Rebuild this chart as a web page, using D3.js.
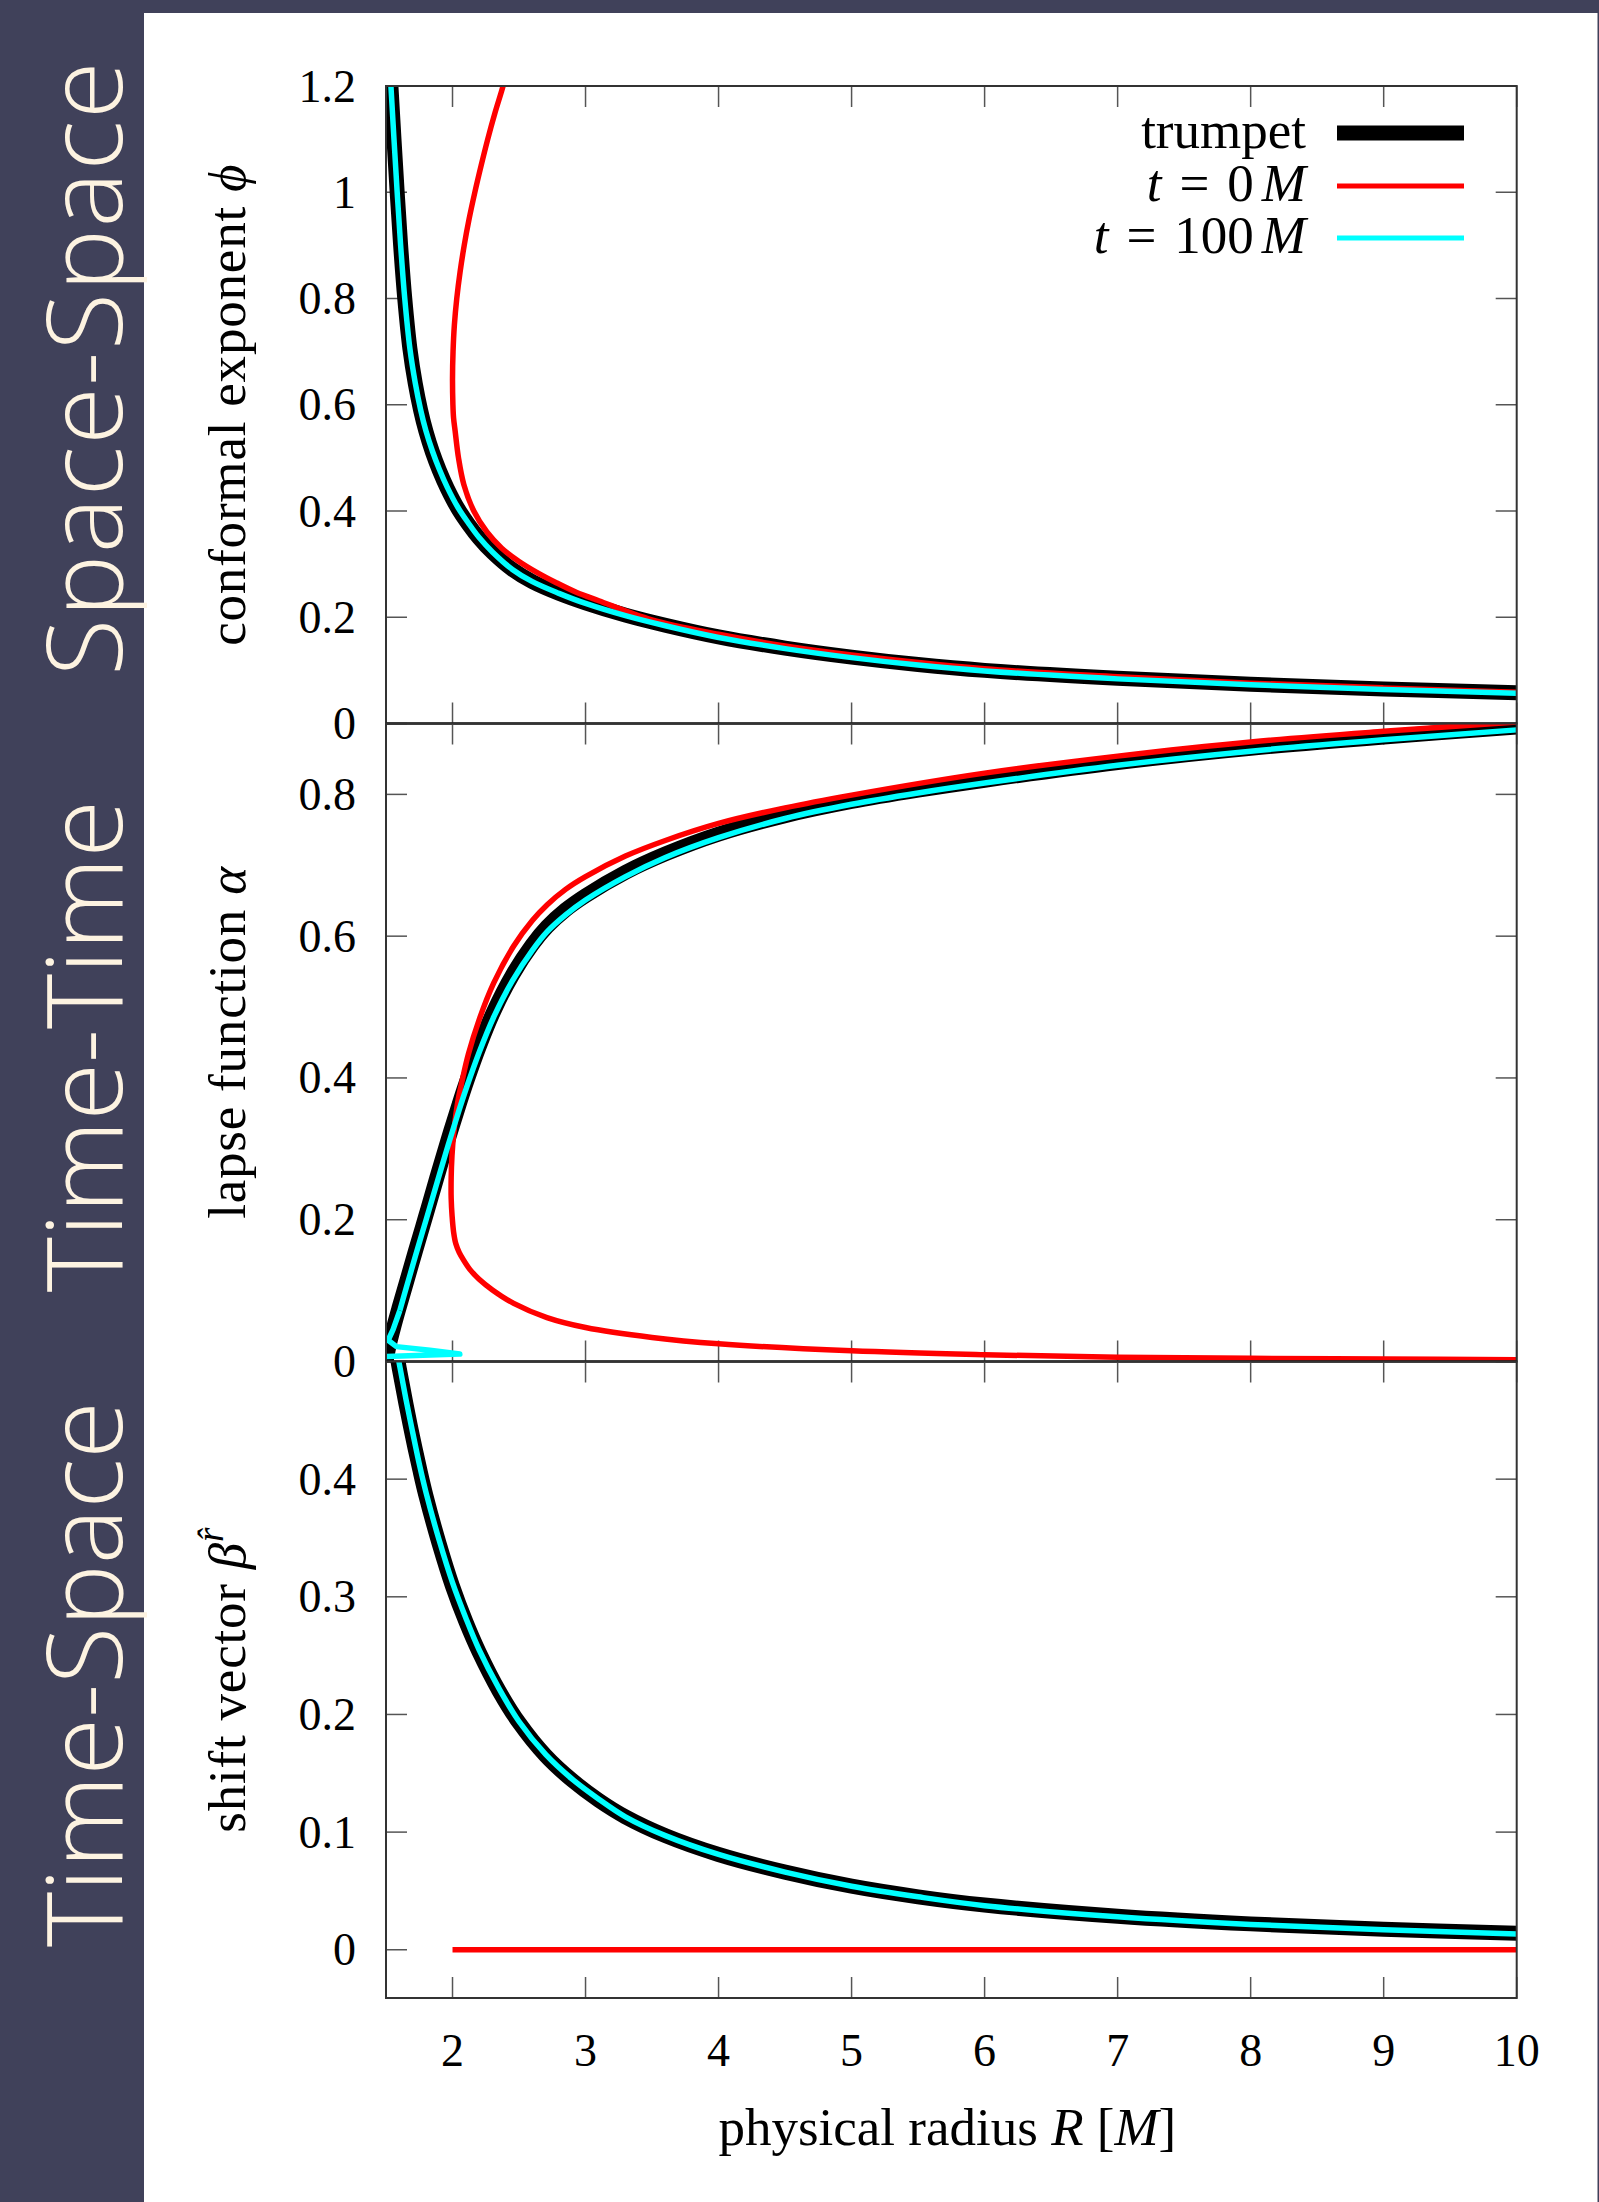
<!DOCTYPE html>
<html>
<head>
<meta charset="utf-8">
<script src="https://cdn.jsdelivr.net/npm/d3@7"></script>
<style>
  body { margin: 0; background: #fff; }
  svg text { font-family: "Liberation Serif", "Times New Roman", serif; fill: #000; }
</style>
</head>
<body>
<svg id="chart" width="1599" height="2202"></svg>
<script>
// ---- data ----
const xTicks = [2, 3, 4, 5, 6, 7, 8, 9, 10];
const phiTicks = [0, 0.2, 0.4, 0.6, 0.8, 1, 1.2];
const alphaTicks = [0, 0.2, 0.4, 0.6, 0.8];
const betaTicks = [0, 0.1, 0.2, 0.3, 0.4];

const bandLabels = ["Space-Space", "Time-Time", "Time-Space"];
const legendLabels = ["trumpet", "t = 0 M", "t = 100 M"];

// conformal exponent phi
const trumpetPhiR = [1.515, 1.537, 1.56, 1.584, 1.61, 1.641, 1.68, 1.72, 1.76, 1.80, 1.85, 1.90, 1.96, 2.04, 2.12, 2.2, 2.3, 2.45, 2.6, 2.8, 3.0, 3.3, 3.6, 4.0, 4.5, 5, 5.5, 6, 7, 8, 9, 10];
const trumpetPhi = [1.3, 1.2, 1.1, 1.0, 0.9, 0.8, 0.705, 0.64, 0.59, 0.55, 0.51, 0.477, 0.443, 0.405, 0.375, 0.349, 0.322, 0.29, 0.267, 0.245, 0.227, 0.204, 0.185, 0.163, 0.142, 0.125, 0.111, 0.1, 0.085, 0.074, 0.065, 0.058];
const cyanPhi = [1.3, 1.2, 1.1, 1.0, 0.9, 0.8, 0.705, 0.641, 0.591, 0.551, 0.512, 0.479, 0.445, 0.407, 0.377, 0.35, 0.323, 0.29, 0.267, 0.245, 0.226, 0.203, 0.184, 0.162, 0.141, 0.124, 0.11, 0.099, 0.084, 0.073, 0.064, 0.057];
const redPhiR = [2.43, 2.38, 2.32, 2.265, 2.215, 2.168, 2.125, 2.088, 2.057, 2.032, 2.014, 2.004, 2.0, 2.003, 2.008, 2.02, 2.045, 2.085, 2.16, 2.26, 2.37, 2.5, 2.63, 2.78, 2.93, 3.1, 3.5, 4, 4.5, 5, 6, 7, 8, 9, 10];
const redPhi = [1.25, 1.2, 1.15, 1.1, 1.05, 1.0, 0.95, 0.9, 0.85, 0.8, 0.75, 0.7, 0.65, 0.6, 0.575, 0.55, 0.5, 0.45, 0.4, 0.36, 0.33, 0.305, 0.285, 0.265, 0.247, 0.231, 0.195, 0.168, 0.146, 0.129, 0.103, 0.088, 0.076, 0.067, 0.059];

// lapse alpha
const trumpetAlphaR = [1.5, 1.52, 1.56, 1.6, 1.654, 1.72, 1.8, 1.88, 1.967, 2.05, 2.11, 2.2, 2.31, 2.45, 2.6, 2.71, 2.85, 3.0, 3.3, 3.6, 4.0, 4.5, 5.0, 5.5, 6, 7, 8, 9, 10];
const trumpetAlpha = [0, 0.02, 0.05, 0.077, 0.112, 0.155, 0.206, 0.258, 0.313, 0.363, 0.397, 0.444, 0.494, 0.545, 0.588, 0.613, 0.637, 0.657, 0.69, 0.716, 0.744, 0.77, 0.79, 0.806, 0.82, 0.845, 0.865, 0.881, 0.895];
const cyanSpikeR = [1.505, 2.055, 1.83, 1.579, 1.516, 1.553, 1.604];
const cyanSpikeAlpha = [0.007, 0.0105, 0.016, 0.021, 0.030, 0.045, 0.072];
const cyanAlphaR = [1.604, 1.654, 1.72, 1.8, 1.88, 1.967, 2.05, 2.11, 2.2, 2.31, 2.45, 2.6, 2.71, 2.85, 3.0, 3.3, 3.6, 4.0, 4.5, 5.0, 5.5, 6, 7, 8, 9, 10];
const cyanAlpha = [0.072, 0.105, 0.148, 0.199, 0.25, 0.305, 0.355, 0.389, 0.436, 0.486, 0.537, 0.58, 0.606, 0.63, 0.651, 0.684, 0.711, 0.739, 0.766, 0.786, 0.802, 0.816, 0.841, 0.861, 0.877, 0.891];
const redAlphaR = [10, 9, 8, 7, 6, 5, 4.5, 4, 3.6, 3.3, 3.0, 2.85, 2.71, 2.6, 2.46, 2.31, 2.2, 2.12, 2.07, 2.045, 2.025, 2.008, 1.996, 1.99, 1.99, 1.997, 2.008, 2.025, 2.05, 2.08, 2.13, 2.2, 2.3, 2.46, 2.71, 3.0, 3.5, 4, 5, 6, 7, 8, 9, 10];
const redAlpha = [0.902, 0.889, 0.874, 0.854, 0.83, 0.799, 0.781, 0.759, 0.735, 0.713, 0.684, 0.666, 0.644, 0.622, 0.586, 0.534, 0.482, 0.434, 0.394, 0.372, 0.348, 0.32, 0.29, 0.26, 0.23, 0.205, 0.183, 0.166, 0.154, 0.144, 0.13, 0.116, 0.101, 0.082, 0.062, 0.048, 0.034, 0.025, 0.015, 0.0095, 0.006, 0.0045, 0.0035, 0.0025];

// shift beta
const trumpetBetaR = [1.55, 1.6, 1.65, 1.7, 1.754, 1.8, 1.9, 2.0, 2.1, 2.2, 2.35, 2.5, 2.7, 2.9, 3.1, 3.3, 3.6, 4.0, 4.5, 5.0, 5.5, 6, 7, 8, 9, 10];
const trumpetBeta = [0.526, 0.494, 0.464, 0.436, 0.408, 0.386, 0.345, 0.309, 0.279, 0.253, 0.22, 0.193, 0.165, 0.144, 0.127, 0.113, 0.097, 0.081, 0.066, 0.054, 0.045, 0.038, 0.0285, 0.022, 0.0175, 0.014];
const cyanBeta = [0.531, 0.498, 0.468, 0.44, 0.411, 0.389, 0.348, 0.312, 0.282, 0.255, 0.222, 0.194, 0.166, 0.145, 0.128, 0.113, 0.097, 0.081, 0.066, 0.054, 0.045, 0.0375, 0.028, 0.0215, 0.017, 0.0135];
const redBetaR = [2, 3, 4, 5, 6, 7, 8, 9, 10];
const redBeta = [0, 0, 0, 0, 0, 0, 0, 0, 0];

// ---- layout ----
const W = 1599, H = 2202;
const bandColor = "#40415a", bandText = "#fdf3e1";
const left = 386, right = 1516.7;
const tickLen = 21;

const svg = d3.select("#chart");
svg.append("rect").attr("width", W).attr("height", H).attr("fill", "#fff");
svg.append("rect").attr("x", 0).attr("y", 0).attr("width", 144).attr("height", H).attr("fill", bandColor);
svg.append("rect").attr("x", 0).attr("y", 0).attr("width", W).attr("height", 13).attr("fill", bandColor);
svg.append("rect").attr("x", W - 1.5).attr("y", 0).attr("width", 1.5).attr("height", H).attr("fill", bandColor);

const x = d3.scaleLinear().domain([1.5, 10]).range([left, right]);

const zip = (a, b) => a.map((v, i) => [v, b[i]]);
const BLACK_W = 15, THIN_W = 5.5;

const panels = [
  { id: "phi", top: 86, bottom: 723.5, domain: [0, 1.2], ticks: phiTicks,
    label: ["conformal exponent ", "ϕ"], band: bandLabels[0], bandY: 368, bandSpacing: 1.5,
    series: [
      { pts: zip(trumpetPhiR, trumpetPhi), color: "#000", w: BLACK_W },
      { pts: zip(redPhiR, redPhi), color: "#ff0000", w: THIN_W },
      { pts: zip(trumpetPhiR, cyanPhi), color: "#00ffff", w: THIN_W }
    ] },
  { id: "alpha", top: 723.5, bottom: 1361.5, domain: [0, 0.9], ticks: alphaTicks,
    label: ["lapse function ", "α"], band: bandLabels[1], bandY: 1046, bandSpacing: 0,
    series: [
      { pts: zip(trumpetAlphaR, trumpetAlpha), color: "#000", w: BLACK_W },
      { pts: zip(redAlphaR, redAlpha), color: "#ff0000", w: THIN_W },
      { pts: zip(cyanSpikeR, cyanSpikeAlpha), color: "#00ffff", w: THIN_W, linear: true },
      { pts: zip(cyanAlphaR, cyanAlpha), color: "#00ffff", w: THIN_W }
    ] },
  { id: "beta", top: 1361.5, bottom: 1998, domain: [-0.041, 0.5], ticks: betaTicks,
    label: ["shift vector ", "β"], band: bandLabels[2], bandY: 1674, bandSpacing: 0,
    series: [
      { pts: zip(trumpetBetaR, trumpetBeta), color: "#000", w: BLACK_W },
      { pts: zip(redBetaR, redBeta), color: "#ff0000", w: THIN_W, linear: true },
      { pts: zip(trumpetBetaR, cyanBeta), color: "#00ffff", w: THIN_W }
    ] }
];

const defs = svg.append("defs");
const fmt = d3.format("~g");

panels.forEach(p => {
  const y = d3.scaleLinear().domain(p.domain).range([p.bottom, p.top]);
  const g = svg.append("g");

  defs.append("clipPath").attr("id", "clip-" + p.id)
    .append("rect").attr("x", left).attr("y", p.top)
    .attr("width", right - left).attr("height", p.bottom - p.top);

  // ticks, inward on all four sides
  const tk = g.append("g").attr("stroke", "#555").attr("stroke-width", 1.5);
  xTicks.forEach(t => {
    tk.append("line").attr("x1", x(t)).attr("x2", x(t)).attr("y1", p.top).attr("y2", p.top + tickLen);
    tk.append("line").attr("x1", x(t)).attr("x2", x(t)).attr("y1", p.bottom).attr("y2", p.bottom - tickLen);
  });
  p.ticks.forEach(t => {
    tk.append("line").attr("x1", left).attr("x2", left + tickLen).attr("y1", y(t)).attr("y2", y(t));
    tk.append("line").attr("x1", right).attr("x2", right - tickLen).attr("y1", y(t)).attr("y2", y(t));
  });

  g.append("g").selectAll("text").data(p.ticks).join("text")
    .attr("x", 356).attr("y", d => y(d) + 15.5)
    .attr("text-anchor", "end").attr("font-size", 46)
    .text(fmt);

  // curves
  const plot = g.append("g").attr("clip-path", "url(#clip-" + p.id + ")");
  p.series.forEach(s => {
    const line = d3.line().x(d => x(d[0])).y(d => y(d[1]))
      .curve(s.linear ? d3.curveLinear : d3.curveCatmullRom.alpha(0.5));
    plot.append("path").attr("d", line(s.pts))
      .attr("fill", "none").attr("stroke", s.color).attr("stroke-width", s.w)
      .attr("stroke-linejoin", "round").attr("stroke-linecap", "butt");
  });

  // frame
  g.append("rect").attr("x", left).attr("y", p.top)
    .attr("width", right - left).attr("height", p.bottom - p.top)
    .attr("fill", "none").attr("stroke", "#333").attr("stroke-width", 2);
  if (p.domain[0] === 0) {
    g.append("line").attr("x1", left).attr("x2", right).attr("y1", y(0)).attr("y2", y(0))
      .attr("stroke", "#000").attr("stroke-width", 2);
  }

  // y label, centred on the panel
  const lab = g.append("text").attr("font-size", 53).attr("text-anchor", "middle")
    .attr("letter-spacing", 0.8)
    .attr("transform", `translate(245,${(p.top + p.bottom) / 2}) rotate(-90)`);
  lab.append("tspan").text(p.label[0]);
  lab.append("tspan").attr("font-style", "italic").text(p.label[1]);
  if (p.id === "beta") {
    lab.append("tspan").attr("font-style", "italic").attr("font-size", 37)
      .attr("dy", -22).text("r\u0302");
  }

  // band label
  svg.append("text").attr("font-size", 105).attr("text-anchor", "middle")
    .attr("letter-spacing", p.bandSpacing)
    .attr("transform", `translate(122,${p.bandY}) rotate(-90)`)
    .style("font-family", "'Open Sans', 'DejaVu Sans', sans-serif")
    .style("font-weight", 300).style("fill", bandText)
    .text(p.band);
});

// x tick labels
svg.append("g").selectAll("text").data(xTicks).join("text")
  .attr("x", d => x(d)).attr("y", 2066).attr("text-anchor", "middle")
  .attr("font-size", 46).text(d => d);

// x label
const xl = svg.append("text").attr("x", (left + right) / 2 - 4).attr("y", 2145)
  .attr("text-anchor", "middle").attr("font-size", 53);
xl.append("tspan").text("physical radius ");
xl.append("tspan").attr("font-style", "italic").text("R");
xl.append("tspan").text(" [");
xl.append("tspan").attr("font-style", "italic").text("M");
xl.append("tspan").text("]");

// legend
const legend = svg.append("g");
const legendStyle = [
  { color: "#000", w: 15, y: 133 },
  { color: "#ff0000", w: 5, y: 186 },
  { color: "#00ffff", w: 5, y: 238 }
];
const legendRight = 1306;
legendLabels.forEach((lbl, i) => {
  const st = legendStyle[i];
  const base = st.y + 15;
  if (i === 0) {
    legend.append("text").attr("x", legendRight).attr("y", base)
      .attr("text-anchor", "end").attr("font-size", 53).text(lbl);
  } else {
    // pieces laid out right to left: M, number, =, t
    const parts = lbl.split(" ");
    const pieces = [
      { s: parts[3], it: true, gap: 8 },
      { s: parts[2], it: false, gap: 18 },
      { s: parts[1], it: false, gap: 18 },
      { s: parts[0], it: true, gap: 0 }
    ];
    let xr = legendRight;
    pieces.forEach(pc => {
      const t = legend.append("text").attr("x", xr).attr("y", base)
        .attr("text-anchor", "end").attr("font-size", 53)
        .attr("font-style", pc.it ? "italic" : "normal").text(pc.s);
      xr -= t.node().getComputedTextLength() + pc.gap;
    });
  }
  legend.append("line").attr("x1", 1337).attr("x2", 1464).attr("y1", st.y).attr("y2", st.y)
    .attr("stroke", st.color).attr("stroke-width", st.w);
});
</script>
</body>
</html>
